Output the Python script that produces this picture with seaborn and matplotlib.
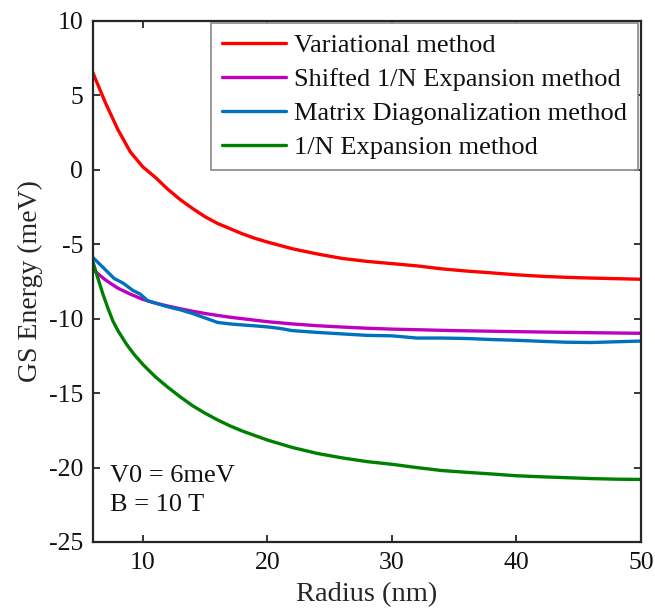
import numpy as np
import pandas as pd
import matplotlib
matplotlib.use("Agg")
import matplotlib.pyplot as plt
import seaborn as sns

# Ground-state energy (meV) versus dot radius (nm) for four methods
radius_var = [6, 7, 8, 9, 10, 11, 12, 13, 14, 15, 16, 17, 18, 19, 20, 22, 24, 26, 28,
              30, 32, 34, 36, 38, 40, 42, 44, 46, 48, 50]
energy_var = [6.5, 4.5, 2.7, 1.2, 0.2, -0.5, -1.3, -2.0, -2.6, -3.15, -3.6, -3.95, -4.3,
              -4.6, -4.85, -5.3, -5.65, -5.95, -6.15, -6.3, -6.45, -6.65, -6.8, -6.92,
              -7.05, -7.15, -7.22, -7.27, -7.31, -7.35]

radius_shift = [6, 7, 8, 9, 10, 11, 12, 13, 14, 15, 16, 17, 18, 20, 22, 24, 26, 28, 30,
                35, 40, 45, 50]
energy_shift = [-6.7, -7.4, -7.95, -8.35, -8.7, -8.95, -9.15, -9.33, -9.5, -9.65, -9.78,
                -9.9, -10.0, -10.2, -10.35, -10.47, -10.56, -10.64, -10.7, -10.8, -10.87,
                -10.93, -10.98]

radius_md = [6, 6.8, 7.7, 8.4, 9.2, 9.8, 10.4, 11.1, 12, 13, 14, 15, 16, 17, 18, 19, 20,
             21, 22, 24, 26, 28, 30, 32, 34, 36, 38, 40, 42, 44, 46, 48, 50]
energy_md = [-5.9, -6.55, -7.3, -7.6, -8.1, -8.35, -8.8, -8.97, -9.2, -9.4, -9.65, -9.95,
             -10.25, -10.35, -10.42, -10.48, -10.55, -10.65, -10.8, -10.92, -11.02,
             -11.12, -11.15, -11.3, -11.3, -11.33, -11.4, -11.45, -11.52, -11.58, -11.6,
             -11.55, -11.5]

radius_1n = [6, 6.4, 6.8, 7.2, 7.6, 8, 8.7, 9.3, 10, 11, 12, 13, 14, 15, 16, 17, 18, 19,
             20, 22, 24, 26, 28, 30, 32, 34, 36, 38, 40, 42, 44, 46, 48, 50]
energy_1n = [-6.2, -7.3, -8.36, -9.3, -10.16, -10.8, -11.73, -12.4, -13.07, -13.9, -14.6,
             -15.25, -15.85, -16.35, -16.8, -17.2, -17.55, -17.85, -18.15, -18.65,
             -19.05, -19.35, -19.6, -19.78, -20.0, -20.2, -20.32, -20.43, -20.55,
             -20.62, -20.68, -20.74, -20.78, -20.8]

methods = ["Variational method", "Shifted 1/N Expansion method",
           "Matrix Diagonalization method", "1/N Expansion method"]
colors = ["#ff0000", "#bf00bf", "#0072bd", "#008000"]

df = pd.concat([
    pd.DataFrame({"Radius": radius_var, "Energy": energy_var, "Method": methods[0]}),
    pd.DataFrame({"Radius": radius_shift, "Energy": energy_shift, "Method": methods[1]}),
    pd.DataFrame({"Radius": radius_md, "Energy": energy_md, "Method": methods[2]}),
    pd.DataFrame({"Radius": radius_1n, "Energy": energy_1n, "Method": methods[3]}),
], ignore_index=True)

sns.set_style("ticks")
plt.rcParams["font.family"] = ["Liberation Serif", "DejaVu Serif"]
plt.rcParams["axes.unicode_minus"] = False

fig = plt.figure(figsize=(6.55, 6.12), dpi=100)
ax = fig.add_axes([0.142, 0.1144, 0.8366, 0.8513])

sns.lineplot(data=df, x="Radius", y="Energy", hue="Method", hue_order=methods,
             palette=colors, linewidth=2.4, sort=False, estimator=None, ax=ax)

ax.set_xlim(6, 50)
ax.set_ylim(-25, 10)
ax.set_xticks([10, 20, 30, 40, 50])
ax.set_yticks([10, 5, 0, -5, -10, -15, -20, -25])
ax.tick_params(direction="in", length=5, width=1.3, top=True, right=True,
               labelsize=18.5, colors="#262626", labelcolor="#111111", pad=7)
for s in ax.spines.values():
    s.set_linewidth(1.6)
    s.set_color("#262626")
    s.set_visible(True)

ax.set_xlabel("Radius (nm)", fontsize=20.5, color="#262626", labelpad=6)
ax.set_ylabel("GS Energy (meV)", fontsize=20, color="#262626", labelpad=4)

ax.text(0.031, 0.127, "V0 = 6meV", transform=ax.transAxes, fontsize=19,
        va="center", ha="left", color="#111111")
ax.text(0.031, 0.071, "B = 10 T", transform=ax.transAxes, fontsize=19,
        va="center", ha="left", color="#111111")

leg = ax.legend(loc="upper right", bbox_to_anchor=(0.995, 0.997), fontsize=19,
                frameon=True, fancybox=False, framealpha=1, edgecolor="#888888",
                handlelength=2.45, handletextpad=0.3, labelspacing=0.4,
                borderpad=0.42, borderaxespad=0.0)
leg.get_frame().set_linewidth(1.2)
for t in leg.get_texts():
    t.set_color("#111111")

fig.savefig("out.png", dpi=100)
